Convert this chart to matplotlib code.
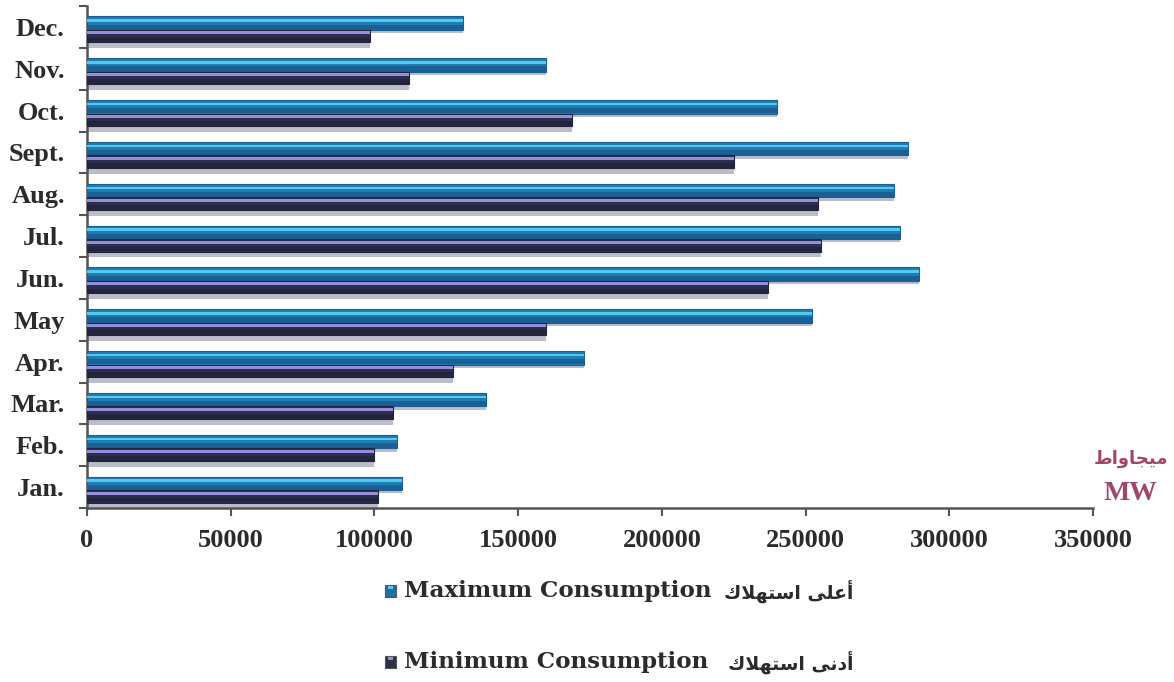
import numpy as np
import matplotlib
matplotlib.use("Agg")
import matplotlib.pyplot as plt
from matplotlib.patches import Rectangle

# Monthly electricity load, megawatts
months = ["Jan.", "Feb.", "Mar.", "Apr.", "May", "Jun.",
          "Jul.", "Aug.", "Sept.", "Oct.", "Nov.", "Dec."]
max_consumption = [109700, 108000, 138900, 172900, 252400, 289600,
                   283000, 280900, 285800, 239900, 159700, 130900]
min_consumption = [101400, 100000, 106600, 127400, 159700, 236800,
                   255500, 254200, 225000, 168750, 112200, 98300]
x_ticks = [0, 50000, 100000, 150000, 200000, 250000, 300000, 350000]

# Arabic strings in shaped presentation forms, visual (left-to-right) order
unit_ar = "\uFEC1\uFE8D\uFEED\uFE8E\uFEA0\uFEF4\uFEE3"                      # ميجاواط
max_ar = "\uFED9\uFEFC\uFEEC\uFE98\uFEB3\uFE8D \uFEF0\uFEE0\uFECB\uFE83"   # أعلى استهلاك
min_ar = "\uFED9\uFEFC\uFEEC\uFE98\uFEB3\uFE8D \uFEF0\uFEE7\uFEA9\uFE83"   # أدنى استهلاك

W, H = 1174, 682
fig = plt.figure(figsize=(W / 100, H / 100), dpi=100)
fig.patch.set_facecolor("white")
ax = fig.add_axes([87 / W, 1 - 508 / H, (1093 - 87) / W, (508 - 6) / H])

idx = np.arange(len(months))
bh_max, bh_min = 0.32, 0.30
pos_max = idx + 0.09
pos_min = pos_max - bh_max / 2 - bh_min / 2

def cylinder_bar(pos, vals, bh, body, dark, light, hi_off, hi_h, z):
    # body, darker lower band, bright upper streak
    ax.barh(pos, vals, height=bh, color=body, edgecolor=dark, linewidth=0.8, zorder=z)
    ax.barh(pos - bh * 0.3, vals, height=bh * 0.38, color=dark, linewidth=0, zorder=z + 0.1)
    ax.barh(pos + bh * hi_off, vals, height=bh * hi_h, color=light, linewidth=0, zorder=z + 0.2)

# soft grey depth under each bar
shadow = "#bdbdca"
ax.barh(pos_max - bh_max / 2 - 0.04, max_consumption, height=0.08, color=shadow, linewidth=0, zorder=1)
ax.barh(pos_min - bh_min / 2 - 0.07, min_consumption, height=0.14, color=shadow, linewidth=0, zorder=1)

cylinder_bar(pos_max, max_consumption, bh_max, "#1f7db4", "#1a6094", "#55c8ee", 0.2, 0.18, 3)
cylinder_bar(pos_min, min_consumption, bh_min, "#2b2e4e", "#23253c", "#958edb", 0.26, 0.24, 4)

ax.set_xlim(0, 350000)
ax.set_ylim(-0.5, len(months) - 0.5)

for s in ["top", "right"]:
    ax.spines[s].set_visible(False)
for s in ["left", "bottom"]:
    ax.spines[s].set_color("#555555")
    ax.spines[s].set_linewidth(1.8)

tick_font = dict(family="Liberation Serif", weight="bold", size=19)
ax.set_xticks(x_ticks)
ax.set_xticklabels([str(v) for v in x_ticks], **tick_font, color="#2b2b2b")
ax.tick_params(axis="x", direction="out", length=6, width=1.5, color="#555555", pad=9)

ax.set_yticks(np.arange(-0.5, len(months)), labels=[])
ax.set_yticks(idx, minor=True)
ax.set_yticklabels(months, minor=True, **tick_font, color="#2b2b2b")
ax.tick_params(axis="y", which="major", direction="out", length=6, width=1.5, color="#555555")
ax.tick_params(axis="y", which="minor", length=0, pad=16)

# unit label
unit_col = "#a0466b"
fig.text(1131 / W, 1 - 459 / H, unit_ar, family=["DejaVu Sans"], weight="bold",
         size=13, color=unit_col, ha="center", va="center")
fig.text(1130 / W, 1 - 493 / H, "MW", family="Liberation Serif", weight="bold",
         size=20, color=unit_col, ha="center", va="center")

# legend
leg_font = dict(family="DejaVu Serif", weight="bold", size=16.6, color="#2b2b2b")
entries = [(591, "Maximum Consumption", max_ar, "#1f6fa2", "#5ec8ea"),
           (662, "Minimum Consumption", min_ar, "#2e3045", "#9990da")]
for yy, label, ar, fc, hc in entries:
    fig.patches.append(Rectangle((385 / W, 1 - (yy + 6) / H), 11 / W, 12 / H,
                                 transform=fig.transFigure, facecolor=fc,
                                 edgecolor="#555555", linewidth=0.8))
    fig.patches.append(Rectangle((388 / W, 1 - (yy - 2) / H), 5 / W, 3 / H,
                                 transform=fig.transFigure, facecolor=hc,
                                 linewidth=0))
    fig.text(404 / W, 1 - yy / H, label, ha="left", va="center", **leg_font)
    fig.text(853 / W, 1 - yy / H, ar, family=["DejaVu Sans"], weight="bold",
             size=13.5, color="#2b2b2b", ha="right", va="center")

fig.savefig("out.png", dpi=100, facecolor="white")
